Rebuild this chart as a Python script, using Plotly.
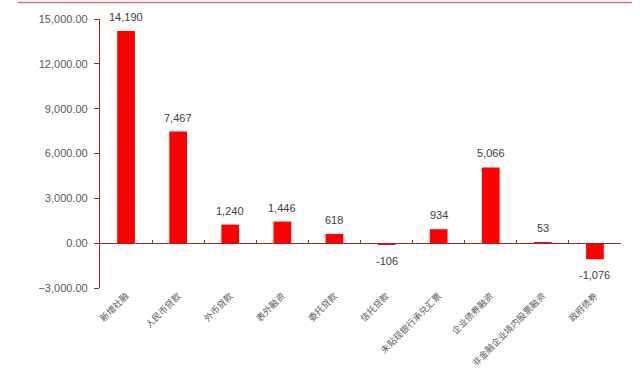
import plotly.graph_objects as go

categories = ["新增社融", "人民币贷款", "外币贷款", "表外融资", "委托贷款", "信托贷款",
              "未贴现银行承兑汇票", "企业债券融资", "非金融企业境内股票融资", "政府债券"]
values = [14190, 7467, 1240, 1446, 618, -106, 934, 5066, 53, -1076]
y_ticks = [-3000, 0, 3000, 6000, 9000, 12000, 15000]

AXIS = "#A0282D"
GRAY = "#595959"

fig = go.Figure()
fig.add_trace(go.Bar(x=categories, y=values, marker=dict(color="#FF0000", line=dict(width=0)),
                     hoverinfo="x+y", showlegend=False))
# helper trace to give the zero-crossing axis its categories
fig.add_trace(go.Scatter(x=categories, y=values, xaxis="x2", mode="markers",
                         marker=dict(opacity=0), hoverinfo="skip", showlegend=False))

for c, v in zip(categories, values):
    fig.add_annotation(x=c, y=v, text=f"{v:,}", showarrow=False,
                       yanchor="bottom" if v >= 0 else "top",
                       yshift=6 if v >= 0 else -8,
                       font=dict(family="Liberation Sans, Arial", size=11, color="#404040"))

ymin, ymax = -3000, 15000
zero_pos = (0 - ymin) / (ymax - ymin)

fig.update_layout(
    width=640, height=371,
    margin=dict(l=100, r=19, t=19, b=83, autoexpand=False),
    paper_bgcolor="white", plot_bgcolor="white",
    bargap=0.66,
    xaxis=dict(type="category", categoryarray=categories, range=[-0.5, 9.5],
               showline=False, ticks="", showgrid=False, zeroline=False, automargin=False,
               tickangle=-45, tickfont=dict(family="Noto Sans CJK SC", size=9, color=GRAY)),
    xaxis2=dict(type="category", categoryarray=categories, range=[-0.5, 9.5],
                overlaying="x", anchor="free", position=zero_pos, side="bottom",
                showline=True, linecolor=AXIS, linewidth=1.2, automargin=False,
                ticks="inside", ticklen=3, tickcolor=AXIS, tickson="boundaries",
                showticklabels=False, showgrid=False, zeroline=False),
    yaxis=dict(range=[ymin, ymax], tickvals=y_ticks, tickformat=",.2f",
               showline=True, linecolor=AXIS, linewidth=1.2, automargin=False,
               ticks="outside", ticklen=5, tickcolor=AXIS, ticklabelstandoff=4,
               showgrid=False, zeroline=False,
               tickfont=dict(family="Liberation Sans, Arial", size=11, color=GRAY)),
    shapes=[dict(type="line", xref="paper", yref="paper",
                 x0=(18 - 100) / 521, x1=(632 - 100) / 521,
                 y0=(288 - 2.5) / 269, y1=(288 - 2.5) / 269,
                 line=dict(color="#E07080", width=1.5))],
)

fig.write_html("out.html", config={"displayModeBar": False},
               post_script="document.body.style.margin='0';document.body.style.overflow='hidden';")
